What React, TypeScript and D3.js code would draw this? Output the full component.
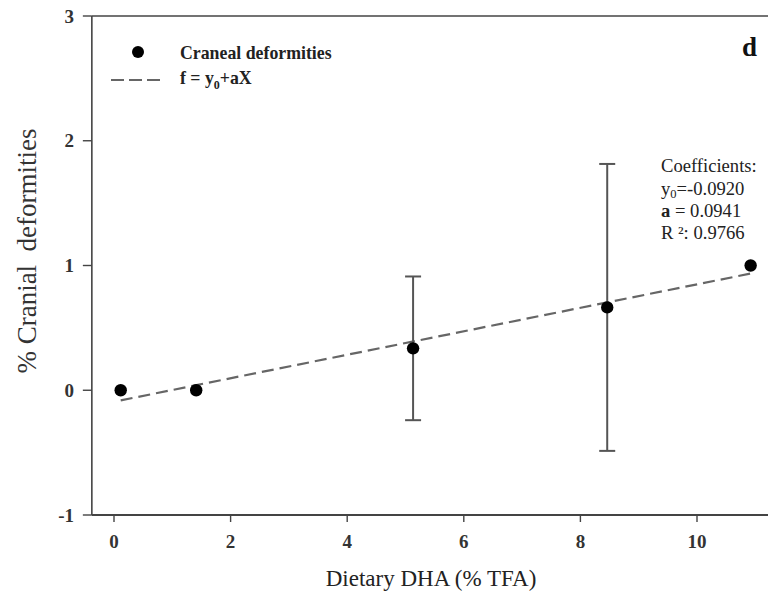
import React from "react";
import * as d3 from "d3";

const dha = [0.115, 1.41, 5.13, 8.46, 10.92];
const deformities = [0.0, 0.0, 0.336, 0.664, 1.0];
const errors = [0, 0, 0.576, 1.15, 0];
const xTicks = [0, 2, 4, 6, 8, 10];
const yTicks = [-1, 0, 1, 2, 3];
const y0 = -0.092;
const slope = 0.0941;
const coefLines = ["Coefficients:", "y0=-0.0920", "a = 0.0941", "R ²: 0.9766"];

export default function App() {
  const x = d3.scaleLinear().domain([0, 10]).range([114, 697]);
  const y = d3.scaleLinear().domain([-1, 3]).range([515, 16]);
  const left = x(-0.38);
  const right = 800;
  const font = "'Liberation Serif', 'DejaVu Serif', serif";
  const axisColor = "#444";
  const lineX = [dha[0], dha[dha.length - 1]];
  const line = d3
    .line<number>()
    .x((d) => x(d))
    .y((d) => y(y0 + slope * d));

  return (
    <svg
      width={768}
      height={596}
      style={{ position: "absolute", left: 0, top: 0, background: "#fff" }}
      fontFamily={font}
    >
      {/* frame */}
      <line x1={left} x2={right} y1={y(3)} y2={y(3)} stroke={axisColor} strokeWidth={1.6} />
      <line x1={left} x2={left} y1={y(3)} y2={y(-1)} stroke={axisColor} strokeWidth={1.6} />
      <line x1={left} x2={right} y1={y(-1)} y2={y(-1)} stroke={axisColor} strokeWidth={1.8} />

      {/* y ticks */}
      {yTicks.map((t) => (
        <g key={"y" + t}>
          <line x1={left - 9} x2={left} y1={y(t)} y2={y(t)} stroke={axisColor} strokeWidth={1.4} />
          <text
            x={74}
            y={y(t)}
            dy="0.35em"
            textAnchor="end"
            fontSize={19}
            fontWeight="bold"
            fill="#333"
          >
            {t}
          </text>
        </g>
      ))}

      {/* x ticks */}
      {xTicks.map((t) => (
        <g key={"x" + t}>
          <line x1={x(t)} x2={x(t)} y1={y(-1)} y2={y(-1) + 7} stroke={axisColor} strokeWidth={1.4} />
          <text x={x(t)} y={548} textAnchor="middle" fontSize={19} fontWeight="bold" fill="#333">
            {t}
          </text>
        </g>
      ))}

      {/* axis titles */}
      <text x={431} y={586} textAnchor="middle" fontSize={23} fill="#222">
        Dietary DHA (% TFA)
      </text>
      <text
        transform={`translate(36, 251) rotate(-90)`}
        textAnchor="middle"
        fontSize={27}
        fill="#333"
        xmlSpace="preserve"
      >
        % Cranial  deformities
      </text>

      {/* regression line */}
      <path d={line(lineX) || ""} fill="none" stroke="#666" strokeWidth={2.2} strokeDasharray="12,6" />

      {/* error bars */}
      {dha.map((d, i) =>
        errors[i] > 0 ? (
          <g key={"e" + i} stroke="#555" strokeWidth={2}>
            <line x1={x(d)} x2={x(d)} y1={y(deformities[i] + errors[i])} y2={y(deformities[i] - errors[i])} />
            <line x1={x(d) - 8} x2={x(d) + 8} y1={y(deformities[i] + errors[i])} y2={y(deformities[i] + errors[i])} />
            <line x1={x(d) - 8} x2={x(d) + 8} y1={y(deformities[i] - errors[i])} y2={y(deformities[i] - errors[i])} />
          </g>
        ) : null
      )}

      {/* points */}
      {dha.map((d, i) => (
        <circle key={"p" + i} cx={x(d)} cy={y(deformities[i])} r={6.2} fill="#000" />
      ))}

      {/* legend */}
      <circle cx={138} cy={52} r={6} fill="#000" />
      <text x={180} y={59} fontSize={17.8} fontWeight="bold" fill="#222">
        Craneal deformities
      </text>
      <line x1={111} x2={161} y1={80} y2={80} stroke="#666" strokeWidth={2.2} strokeDasharray="13,5" />
      <text x={180} y={84} fontSize={17.8} fontWeight="bold" fill="#222">
        f = y<tspan fontSize={12} dy={5}>0</tspan>
        <tspan dy={-5}>+aX</tspan>
      </text>

      {/* panel label */}
      <text x={742} y={56} fontSize={27} fontWeight="bold" fill="#111">
        d
      </text>

      {/* coefficients */}
      <g fontSize={18.6} fill="#222">
        <text x={661} y={172}>{coefLines[0]}</text>
        <text x={661} y={195}>
          y<tspan fontSize={12.5} dy={3}>0</tspan>
          <tspan dy={-3}>=-0.0920</tspan>
        </text>
        <text x={661} y={217}>
          <tspan fontWeight="bold">a</tspan> = 0.0941
        </text>
        <text x={661} y={239}>{coefLines[3]}</text>
      </g>
    </svg>
  );
}
